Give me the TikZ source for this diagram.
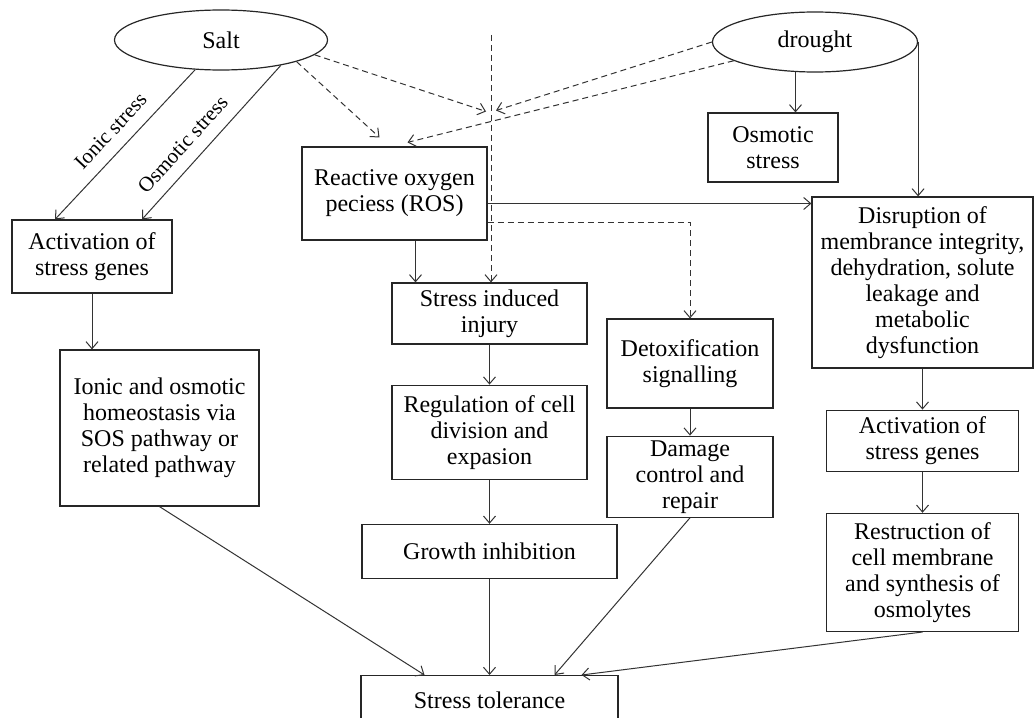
\documentclass[tikz,border=0pt]{standalone}
\usepackage{fontspec}
\setmainfont{Liberation Serif}
\usepackage{tikz}
\usetikzlibrary{positioning, shapes.geometric, arrows.meta}

\begin{document}
\begin{tikzpicture}[x=1pt, y=-1pt,
font=\fontsize{24pt}{26pt}\selectfont,
box/.style={rectangle, draw=black!85, line width=1.2pt, align=center,
inner sep=2pt, minimum width=#1},
stress/.style={ellipse, draw=black!85, line width=1.2pt,
minimum width=#1, minimum height=60pt},
arrow/.style={->, line width=1pt, draw=black!80,
>={Straight Barb[length=7pt, width=12pt]}},
dasharrow/.style={arrow, dash pattern=on 6pt off 4pt},
lbl/.style={font=\fontsize{21pt}{24pt}\selectfont, sloped, above=9pt}
]
\useasboundingbox (0,0) rectangle (1035,717);

% Stresses
\node[stress=213pt] (salt) at (221,40) {Salt};
\node[stress=205pt] (drought) at (815,42) {drought};

% Salt side
\node[box=160pt, minimum height=73pt] (actl) at (92,256.5)
{Activation of\\stress genes};
\node[box=199pt, minimum height=156pt] (ionic) at (159.5,428)
{Ionic and osmotic\\homeostasis via\\SOS pathway or\\related pathway};

% ROS column
\node[box=185pt, minimum height=93pt] (ros) at (394.5,193.5)
{Reactive oxygen\\peciess (ROS)};
\node[box=195pt, minimum height=61pt] (injury) at (489.5,313.5)
{Stress induced\\injury};
\node[box=195pt, minimum height=94pt, below=40pt of injury] (regul)
{Regulation of cell\\division and\\expasion};
\node[box=255pt, minimum height=54pt, below=44pt of regul] (growth)
{Growth inhibition};
\node[box=257pt, minimum height=50pt, below=96pt of growth] (toler)
{Stress tolerance};

% Detoxification
\node[box=166pt, minimum height=89pt] (detox) at (690,363.5)
{Detoxification\\signalling};
\node[box=166pt, minimum height=81pt, below=27pt of detox] (damage)
{Damage\\control and\\repair};

% Drought side
\node[box=130pt, minimum height=69pt] (osm) at (773,147.5)
{Osmotic\\stress};
\node[box=221pt, minimum height=171pt] (disr) at (922.5,282.5)
{Disruption of\\membrance integrity,\\dehydration, solute\\leakage and\\metabolic\\dysfunction};
\node[box=192pt, minimum height=61pt, below=41pt of disr] (actr)
{Activation of\\stress genes};
\node[box=192pt, minimum height=118pt, below=41pt of actr] (restr)
{Restruction of\\cell membrane\\and synthesis of\\osmolytes};

% Dashed guide line
\coordinate (vtop) at (491,35);
\coordinate (meet) at (491,111.5);

% Arrows from salt
\draw[arrow] (salt.-131) -- ([xshift=-37pt]actl.north)
node[lbl, midway] {Ionic stress};
\draw[arrow] (salt.-23) -- ([xshift=50pt]actl.north)
node[lbl, pos=0.6] {Osmotic stress};
\draw[dasharrow] (salt.-9) -- ([xshift=-5pt]meet);
\draw[dasharrow] (salt.-16) -- ([xshift=-15pt, yshift=9pt]ros.north);

% Arrows from drought
\draw[dasharrow] (drought.west) -- ([xshift=5pt, yshift=1pt]meet);
\draw[dasharrow] (drought.-167) -- ([xshift=13pt, yshift=4pt]ros.north);
\draw[arrow] (drought.-123) -- (drought.-123 |- osm.north);
\draw[arrow] (drought.east) -- (drought.east |- disr.north);

% Vertical dashed line
\draw[dasharrow] (vtop) -- (vtop |- injury.north);

% ROS links
\draw[arrow] ([yshift=-10pt]ros.east) -- ([yshift=-10pt]ros.east -| disr.west);
\draw[dasharrow] ([yshift=-29pt]ros.east) -| (detox.north);
\draw[arrow] ([xshift=21pt]ros.south) -- ([xshift=21pt]ros.south |- injury.north);

% Columns
\draw[arrow] (actl.south) -- (actl.south |- ionic.north);
\draw[arrow] (injury) -- (regul);
\draw[arrow] (regul) -- (growth);
\draw[arrow] (growth) -- (toler);
\draw[arrow] (detox) -- (damage);
\draw[arrow] (disr.south -| actr.north) -- (actr.north);
\draw[arrow] (actr) -- (restr);

% Into stress tolerance
\draw[arrow] (ionic.south) -- ([xshift=-65pt]toler.north);
\draw[arrow] (damage.south) -- ([xshift=65pt]toler.north);
\draw[arrow] (restr.south) -- ([xshift=92pt]toler.north);

\end{tikzpicture}
\end{document}
